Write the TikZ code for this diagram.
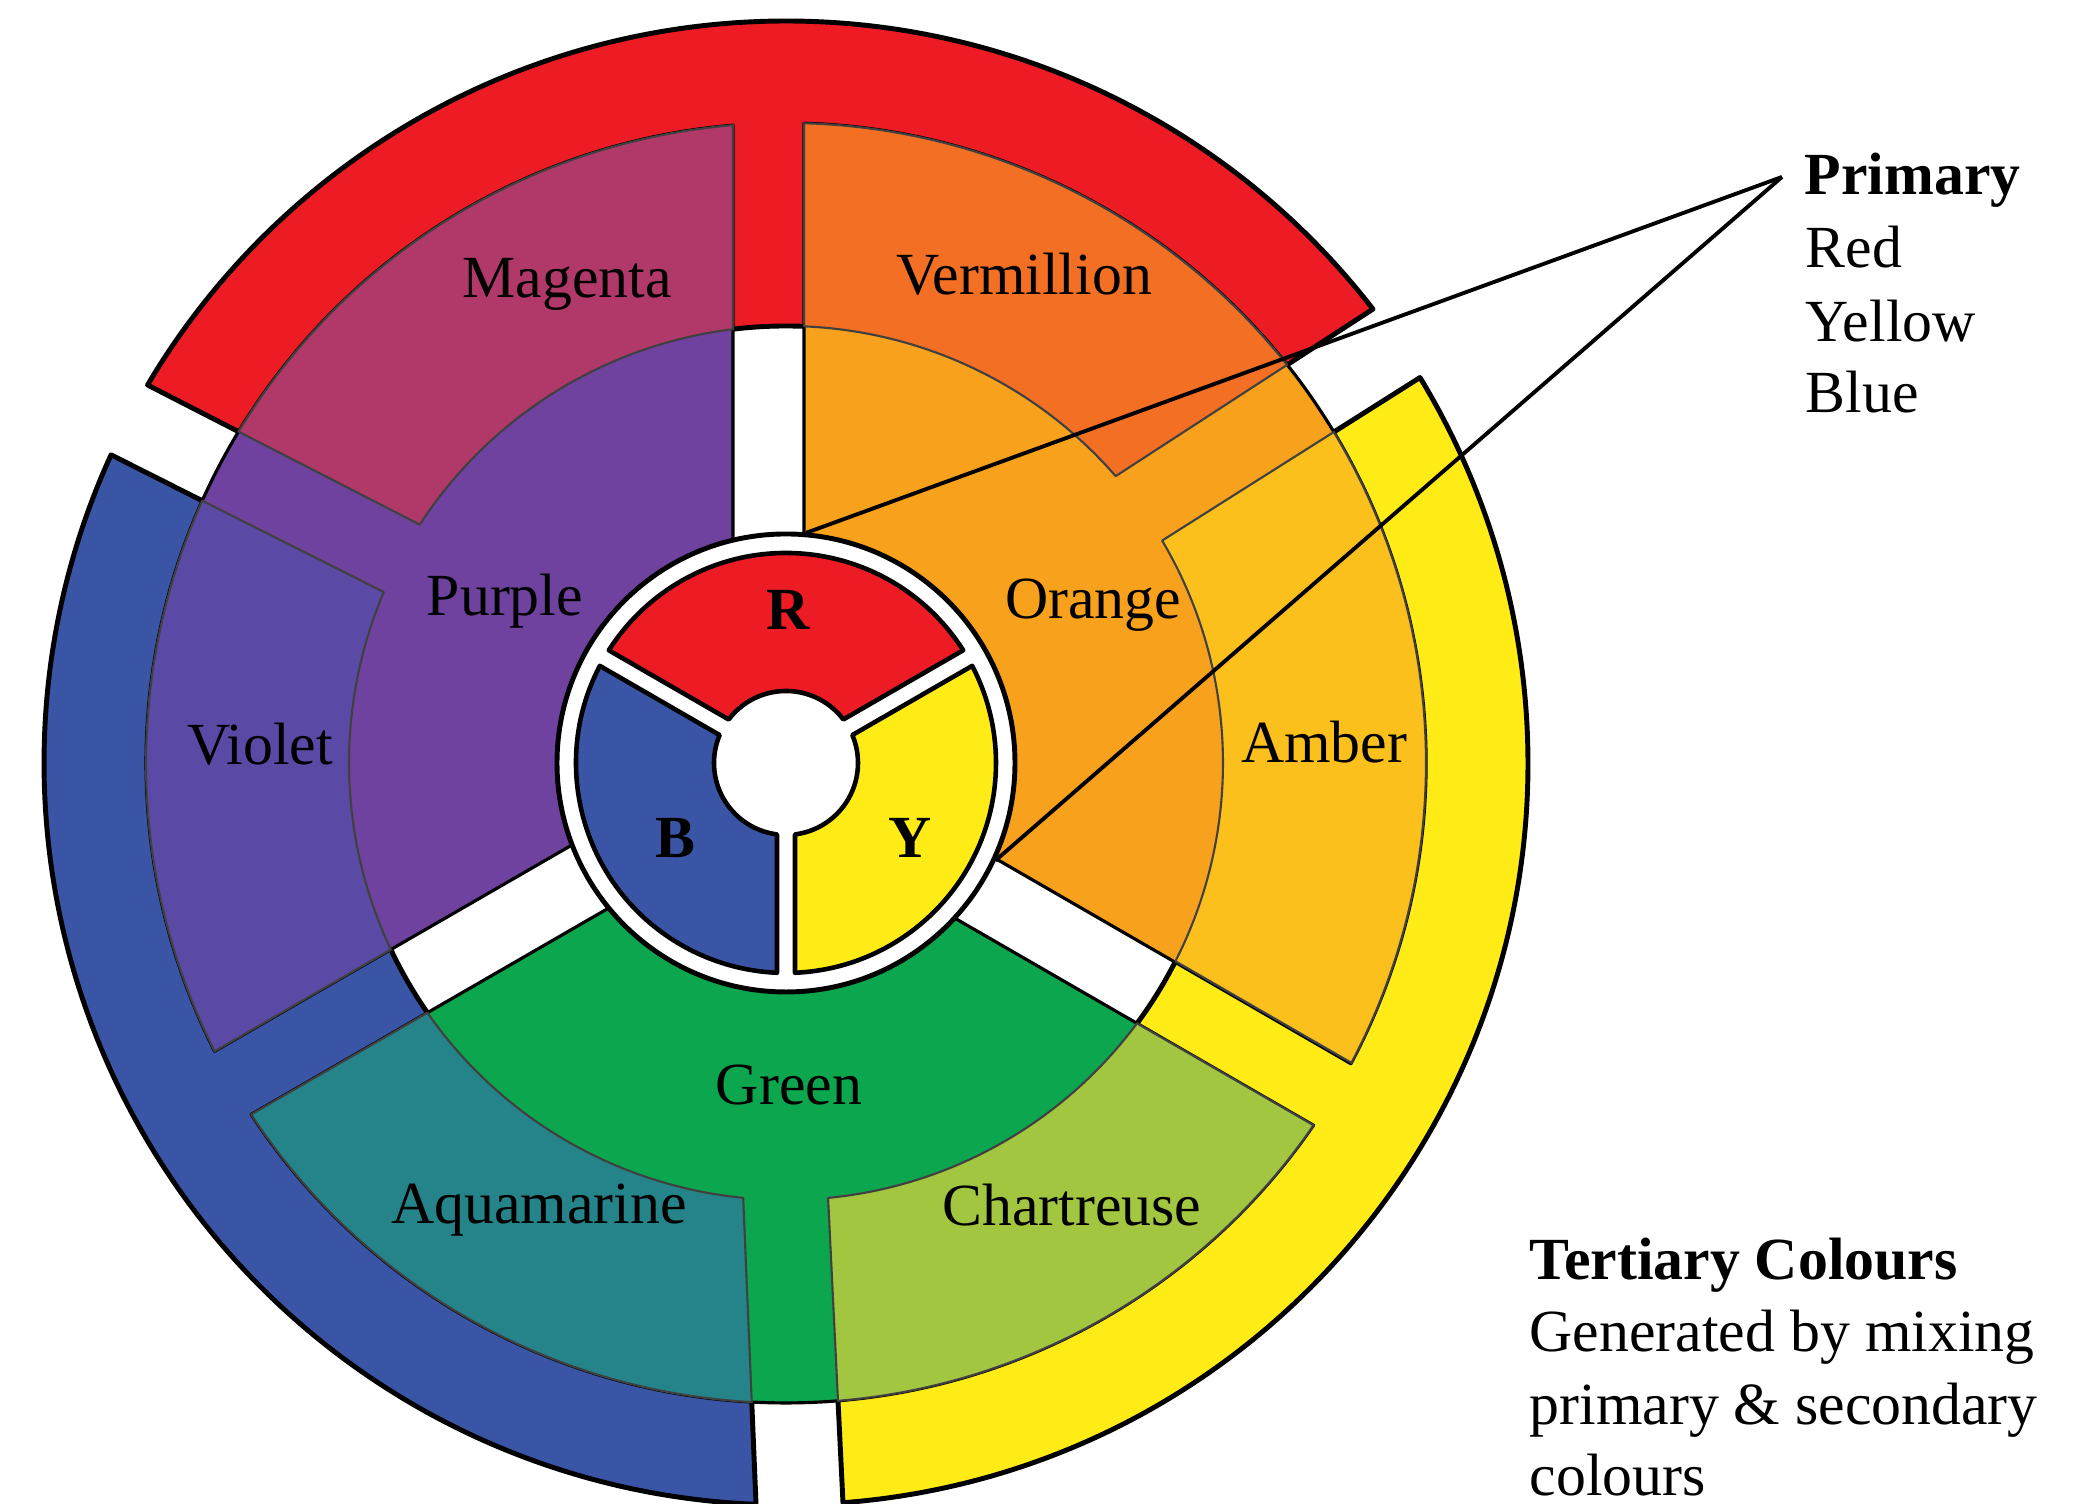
\documentclass[tikz,border=0pt]{standalone}
\usepackage{fontspec}
\setmainfont{Liberation Serif}
\definecolor{cRed}{HTML}{ED1C24}
\definecolor{cYellow}{HTML}{FFEB16}
\definecolor{cBlue}{HTML}{3A55A5}
\definecolor{cPurple}{HTML}{6F42A0}
\definecolor{cOrange}{HTML}{F8A11C}
\definecolor{cGreen}{HTML}{0BA64E}
\definecolor{cMagenta}{HTML}{B0396A}
\definecolor{cVermillion}{HTML}{F26F23}
\definecolor{cAmber}{HTML}{FCC01C}
\definecolor{cChartreuse}{HTML}{A2C63F}
\definecolor{cAqua}{HTML}{24848A}
\definecolor{cViolet}{HTML}{5A4AA6}
% #1 style, #2 thetaA, #3 offsetA, #4 thetaB, #5 offsetB, #6 inner radius, #7 outer radius
\newcommand{\wseg}[7]{%
  \pgfmathsetmacro\wAi{#2+asin(#3/#6)}%
  \pgfmathsetmacro\wAo{#2+asin(#3/#7)}%
  \pgfmathsetmacro\wBi{#4+asin(#5/#6)}%
  \pgfmathsetmacro\wBo{#4+asin(#5/#7)}%
  \path[#1] (\wAi:#6) -- (\wAo:#7) arc[start angle=\wAo, end angle=\wBo, radius=#7]
     -- (\wBi:#6) arc[start angle=\wBi, end angle=\wAi, radius=#6] -- cycle;}
\begin{document}
\begin{tikzpicture}[x=0.01cm,y=0.01cm,
  lbl/.style={font=\fontsize{17}{20.6}\selectfont, inner sep=0pt, anchor=base},
  blbl/.style={lbl, font=\fontsize{17}{20.6}\selectfont\bfseries},
  band/.style={draw=black, line width=1.4pt, line join=round},
  second/.style={draw=black, line width=0.9pt, line join=round},
  tert/.style={draw=black!75, line width=0.6pt, line join=round},
  prim/.style={draw=black, line width=1.3pt, line join=round},
  leader/.style={draw=black, line width=1.1pt}]
\useasboundingbox (0,0) rectangle (2074,1504);
\fill[white] (0,0) rectangle (2074,1504);
\clip (0,0) rectangle (2074,1504);
\begin{scope}[shift={(786,741)}]
  % outer primary bands
  \wseg{band, fill=cRed}{33}{61}{152.85}{-45}{437}{742}
  \wseg{band, fill=cYellow}{272.8}{20.8}{392.3}{-13}{437}{742}
  \wseg{band, fill=cBlue}{153.3}{28}{272.4}{-61}{437}{742}
  % secondary sectors
  \wseg{second, fill=cPurple}{90}{53}{210}{-36}{229}{640}
  \wseg{second, fill=cOrange}{-30}{22}{90}{-18}{229}{640}
  \wseg{second, fill=cGreen}{210}{37}{330}{-50}{229}{640}
  % tertiary sectors
  \wseg{tert, fill=cMagenta}{90}{53}{152.85}{-45}{437}{640}
  \wseg{tert, fill=cVermillion}{33}{61}{90}{-18}{437}{640}
  \wseg{tert, fill=cAmber}{-30}{23}{32.3}{-13}{437}{640}
  \wseg{tert, fill=cChartreuse}{272.8}{20.8}{330}{-50}{437}{640}
  \wseg{tert, fill=cAqua}{210}{37}{272.4}{-61}{437}{640}
  \wseg{tert, fill=cViolet}{153.3}{28}{210}{-36}{437}{640}
  % white ring and primary segments
  \draw[fill=white, line width=1.4pt] (0,0) circle[radius=229];
  \wseg{prim, fill=cRed}{30}{9}{150}{-9}{72}{210}
  \wseg{prim, fill=cYellow}{270}{9}{390}{-9}{72}{210}
  \wseg{prim, fill=cBlue}{150}{9}{270}{-9}{72}{210}
  \coordinate (lr) at (85:231);
  \coordinate (ly) at (-25:231);
\end{scope}
% wheel labels
\node[lbl] (magenta) at (567,1206) {Magenta};
\node[lbl] (vermillion) at (1024,1209) {Vermillion};
\node[lbl] (purple) at (505,888) {Purple};
\node[lbl] (orange) at (1093,885) {Orange};
\node[lbl] (violet) at (260,739) {Violet};
\node[lbl] (amber) at (1324,741) {Amber};
\node[lbl] (green) at (789,399) {Green};
\node[lbl] (aqua) at (539,280) {Aquamarine};
\node[lbl] (chart) at (1072,278) {Chartreuse};
\node[blbl] (pr) at (788,874) {R};
\node[blbl] (pb) at (675,646) {B};
\node[blbl] (py) at (910,646) {Y};
% side texts
\node[blbl, anchor=base west] (primary) at (1804,1309) {Primary};
\node[lbl, anchor=base west] (tred) at (1805,1236) {Red};
\node[lbl, anchor=base west] (tyellow) at (1805,1162) {Yellow};
\node[lbl, anchor=base west] (tblue) at (1805,1091) {Blue};
\node[blbl, anchor=base west] (tert) at (1529,224) {Tertiary Colours};
\node[lbl, anchor=base west] (tl1) at (1529,152) {Generated by mixing};
\node[lbl, anchor=base west] (tl2) at (1529,79) {primary \& secondary};
\node[lbl, anchor=base west] (tl3) at (1529,8) {colours};
% leader lines
\coordinate (apex) at (1782,1327);
\draw[leader] (apex) -- (lr);
\draw[leader] (apex) -- (ly);
\end{tikzpicture}
\end{document}
